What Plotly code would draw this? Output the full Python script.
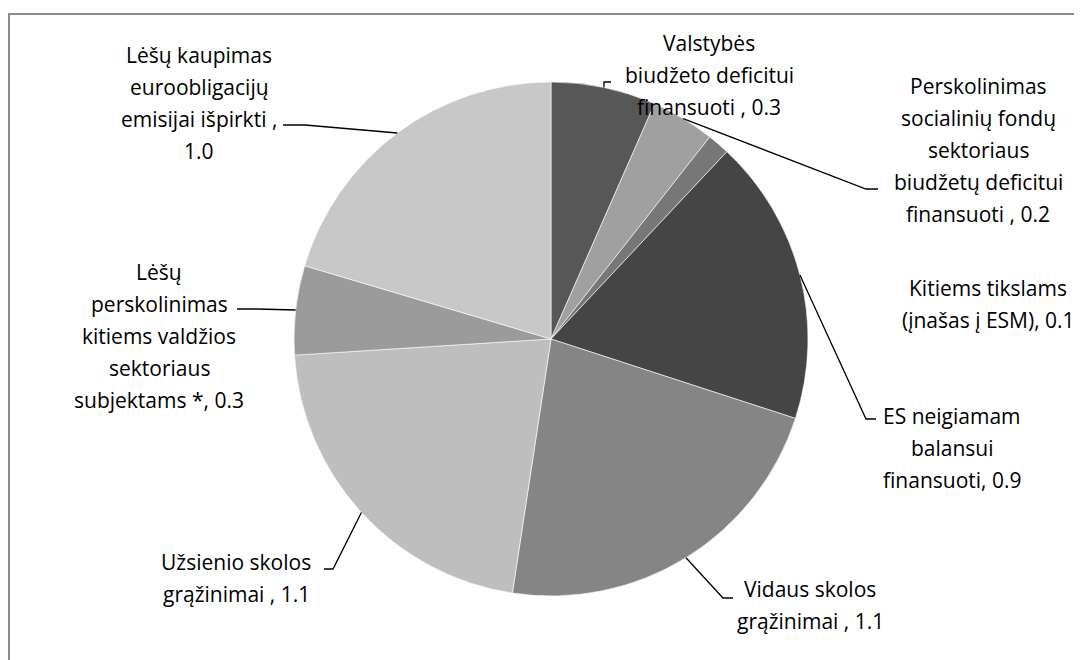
import math
import plotly.graph_objects as go

W, H = 1082, 660

# ---- data ----
categories = [
    "Valstybės biudžeto deficitui finansuoti",
    "Perskolinimas socialinių fondų sektoriaus biudžetų deficitui finansuoti",
    "Kitiems tikslams (įnašas į ESM)",
    "ES neigiamam balansui finansuoti",
    "Vidaus skolos grąžinimai",
    "Užsienio skolos grąžinimai",
    "Lėšų perskolinimas kitiems valdžios sektoriaus subjektams *",
    "Lėšų kaupimas euroobligacijų emisijai išpirkti",
]
values = [0.33, 0.20, 0.07, 0.90, 1.12, 1.08, 0.28, 1.02]
label_lines = [
    ["Valstybės", "biudžeto deficitui", "finansuoti , {v}"],
    ["Perskolinimas", "socialinių fondų", "sektoriaus", "biudžetų deficitui", "finansuoti , {v}"],
    ["Kitiems tikslams", "(įnašas į ESM), {v}"],
    ["ES neigiamam", "balansui", "finansuoti, {v}"],
    ["Vidaus skolos", "grąžinimai , {v}"],
    ["Užsienio skolos", "grąžinimai , {v}"],
    ["Lėšų", "perskolinimas", "kitiems valdžios", "sektoriaus", "subjektams *, {v}"],
    ["Lėšų kaupimas", "euroobligacijų", "emisijai išpirkti ,", "{v}"],
]
colors = ["#575757", "#a0a0a0", "#777777", "#454545",
          "#858585", "#bebebe", "#9b9b9b", "#c8c8c8"]

# ---- layout constants (pixels in the screenshot) ----
OFF = 8  # page body margin
CX, CY, R = 551, 339, 257
label_center_x = [709, 978, 988, 952, 810, 236, 159, 199]
label_first_y = [43, 86, 288, 416, 589, 562, 272, 55]
LINE_GAP = 32
leaders = [
    [(604, 82), (611, 82)],
    [(866, 189), (878, 189)],
    None,
    [(866, 419), (876, 419)],
    [(723, 598), (733, 598)],
    [(333, 569), (324, 569)],
    [(257, 309), (237, 309)],
    [(305, 125), (283, 125)],
]

def px(x):
    return (x - OFF) / W

def py(y):
    return 1 - (y - OFF) / H

FONT = "Open Sans"
FS = 21

fig = go.Figure(go.Pie(
    labels=categories,
    values=values,
    sort=False,
    direction="clockwise",
    rotation=0,
    marker=dict(colors=colors, line=dict(color="#ffffff", width=0.6)),
    textinfo="none",
    hoverinfo="label+value",
    showlegend=False,
    domain=dict(x=[px(CX - R), px(CX + R)], y=[py(CY + R), py(CY - R)]),
))

annotations = []
shapes = []
total = sum(values)
cum = 0.0
for i, v in enumerate(values):
    mid = (cum + v / 2) / total * 2 * math.pi
    cum += v
    sx = CX + R * math.sin(mid)
    sy = CY - R * math.cos(mid)
    for j, line in enumerate(label_lines[i]):
        annotations.append(dict(
            x=px(label_center_x[i]), y=py(label_first_y[i] + j * LINE_GAP),
            xref="paper", yref="paper", xanchor="center", yanchor="middle",
            text=line.format(v=f"{v:.1f}"), showarrow=False,
            font=dict(family=FONT, size=FS, color="#000000"),
        ))
    if leaders[i] is not None:
        pts = [(sx, sy)] + leaders[i]
        path = "M " + " L ".join(f"{px(x)},{py(y)}" for x, y in pts)
        shapes.append(dict(type="path", path=path, xref="paper", yref="paper",
                           line=dict(color="#000000", width=1.3)))

# chart area border
shapes.append(dict(type="rect", xref="paper", yref="paper",
                   x0=px(9), y0=py(720), x1=px(1130), y1=py(14),
                   line=dict(color="#8c8c8c", width=2)))

fig.update_layout(
    width=W, height=H,
    margin=dict(l=0, r=0, t=0, b=0),
    paper_bgcolor="#ffffff",
    plot_bgcolor="#ffffff",
    annotations=annotations,
    shapes=shapes,
    font=dict(family=FONT, size=FS),
)

fig.write_html("out.html")
